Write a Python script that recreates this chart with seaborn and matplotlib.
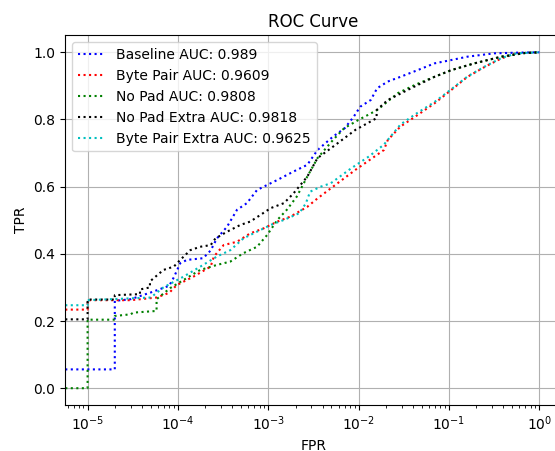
import matplotlib
matplotlib.use("Agg")
import matplotlib.pyplot as plt
import seaborn as sns

# ROC points (fpr, tpr)
baseline_fpr = [0, 2e-5, 2e-5, 3e-5, 5e-5, 8e-5, 9e-5, 1.06e-4, 1.26e-4, 1.9e-4,
                2.3e-4, 2.7e-4, 3.5e-4, 4.5e-4, 5.8e-4, 7.5e-4, 9.7e-4, 1.26e-3,
                1.9e-3, 2.7e-3, 3.5e-3, 5.2e-3, 7e-3, 8.8e-3, 1.04e-2, 1.36e-2,
                1.6e-2, 2.1e-2, 2.9e-2, 4.5e-2, 6.9e-2, 0.106, 0.16, 0.32, 0.6, 1.0]
baseline_tpr = [0.056, 0.056, 0.26, 0.265, 0.285, 0.305, 0.33, 0.372, 0.382, 0.387,
                0.41, 0.446, 0.481, 0.531, 0.551, 0.59, 0.605, 0.62,
                0.645, 0.665, 0.709, 0.749, 0.774, 0.808, 0.838, 0.858,
                0.893, 0.913, 0.927, 0.947, 0.967, 0.977, 0.987, 0.997, 0.999, 1.0]

bytepair_fpr = [0, 1e-5, 1e-5, 3e-5, 5.8e-5, 8e-5, 9.7e-5, 1.48e-4, 2.3e-4, 2.5e-4,
                3.2e-4, 4.5e-4, 6.3e-4, 8.9e-4, 1.26e-3, 1.76e-3, 2.7e-3, 3.5e-3,
                5.2e-3, 9.2e-3, 1.33e-2, 1.9e-2, 2.1e-2, 2.9e-2, 4.2e-2, 6.9e-2,
                0.106, 0.16, 0.25, 0.38, 0.56, 1.0]
bytepair_tpr = [0.234, 0.234, 0.262, 0.262, 0.27, 0.284, 0.307, 0.332, 0.362, 0.392,
                0.426, 0.436, 0.461, 0.476, 0.496, 0.511, 0.54, 0.565,
                0.60, 0.65, 0.68, 0.709, 0.739, 0.779, 0.808, 0.848,
                0.888, 0.927, 0.957, 0.982, 0.997, 1.0]

nopad_fpr = [0, 1e-5, 1e-5, 2e-5, 2e-5, 3e-5, 3.2e-5, 5.8e-5, 5.8e-5, 8.2e-5,
             1.15e-4, 1.76e-4, 2.7e-4, 3.8e-4, 5.3e-4, 7.5e-4, 9.7e-4, 1.26e-3,
             1.6e-3, 2.06e-3, 2.7e-3, 3.5e-3, 5.2e-3, 6.9e-3, 1e-2, 1.6e-2,
             2.7e-2, 4.2e-2, 6.9e-2, 0.106, 0.19, 0.38, 0.7, 1.0]
nopad_tpr = [0.0, 0.0, 0.204, 0.204, 0.215, 0.22, 0.225, 0.23, 0.265, 0.298,
             0.322, 0.352, 0.367, 0.377, 0.402, 0.421, 0.456, 0.501,
             0.531, 0.57, 0.63, 0.685, 0.739, 0.774, 0.799, 0.828,
             0.878, 0.903, 0.927, 0.947, 0.967, 0.987, 0.998, 1.0]

nopad_extra_fpr = [0, 1e-5, 1e-5, 2e-5, 2e-5, 3.8e-5, 3.8e-5, 4.9e-5, 4.9e-5, 6.9e-5,
                   9e-5, 1.06e-4, 1.37e-4, 1.76e-4, 2.3e-4, 2.6e-4, 3.5e-4, 4.9e-4,
                   6.3e-4, 8.2e-4, 1.06e-3, 1.49e-3, 1.9e-3, 2.7e-3, 3.5e-3, 5.2e-3,
                   9.2e-3, 1.58e-2, 1.58e-2, 2.1e-2, 3.8e-2, 6.9e-2, 0.106, 0.19,
                   0.38, 0.7, 1.0]
nopad_extra_tpr = [0.205, 0.205, 0.264, 0.264, 0.277, 0.28, 0.294, 0.30, 0.318, 0.352,
                   0.362, 0.382, 0.411, 0.421, 0.426, 0.446, 0.466, 0.486,
                   0.496, 0.516, 0.536, 0.551, 0.58, 0.63, 0.685, 0.719,
                   0.769, 0.804, 0.828, 0.858, 0.893, 0.927, 0.947, 0.967,
                   0.987, 0.998, 1.0]

bytepair_extra_fpr = [0, 1e-5, 1e-5, 5e-5, 6.9e-5, 1.15e-4, 1.9e-4, 2.7e-4, 3.8e-4,
                      5.3e-4, 7.5e-4, 1.06e-3, 1.49e-3, 2.2e-3, 2.6e-3, 2.9e-3, 3.8e-3,
                      4.9e-3, 8.3e-3, 1.3e-2, 1.9e-2, 2.9e-2, 4.2e-2, 6.9e-2, 0.106,
                      0.16, 0.25, 0.38, 0.56, 1.0]
bytepair_extra_tpr = [0.247, 0.247, 0.262, 0.27, 0.30, 0.332, 0.367, 0.392, 0.411,
                      0.446, 0.466, 0.486, 0.501, 0.521, 0.55, 0.585, 0.60,
                      0.61, 0.655, 0.69, 0.725, 0.785, 0.815, 0.852, 0.89,
                      0.928, 0.958, 0.983, 0.997, 1.0]

curves = [
    ("Baseline AUC: 0.989", baseline_fpr, baseline_tpr, "b"),
    ("Byte Pair AUC: 0.9609", bytepair_fpr, bytepair_tpr, "r"),
    ("No Pad AUC: 0.9808", nopad_fpr, nopad_tpr, "g"),
    ("No Pad Extra AUC: 0.9818", nopad_extra_fpr, nopad_extra_tpr, "k"),
    ("Byte Pair Extra AUC: 0.9625", bytepair_extra_fpr, bytepair_extra_tpr, "c"),
]

fig = plt.figure(figsize=(5.55, 4.51), dpi=100)
ax = fig.add_axes([65 / 555, 46 / 451, 497 / 555, 369.5 / 451])

for label, fpr, tpr, color in curves:
    sns.lineplot(x=fpr, y=tpr, sort=False, estimator=None, color=color,
                 linestyle=":", linewidth=1.5, label=label, ax=ax)

ax.set_xscale("log")
ax.grid(True)
ax.set_title("ROC Curve")
ax.set_xlabel("FPR")
ax.set_ylabel("TPR")
ax.legend(loc="upper left")

fig.savefig("out.png", dpi=100)
